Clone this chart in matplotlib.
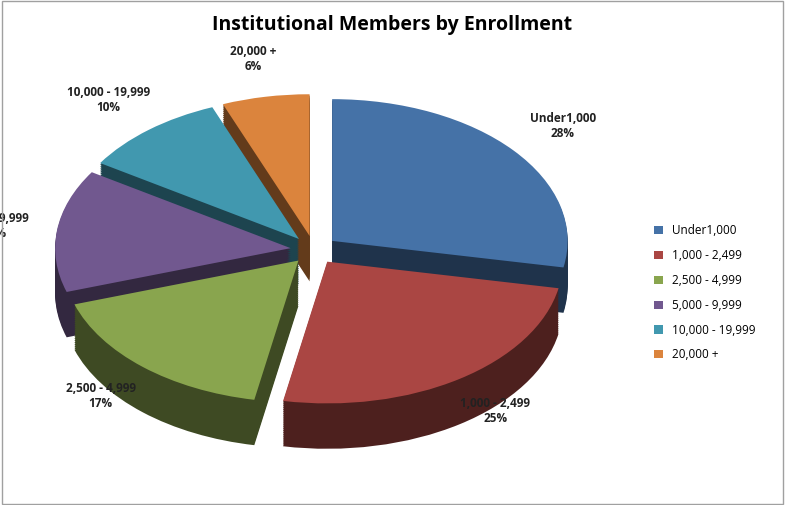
import matplotlib.pyplot as plt
import matplotlib.colors as mcolors
import numpy as np

categories = ["Under1,000", "1,000 - 2,499", "2,500 - 4,999", "5,000 - 9,999", "10,000 - 19,999", "20,000 +"]
shares = [28, 25, 17, 14, 10, 6]
colors = ["#4572a7", "#aa4643", "#89a54e", "#71588f", "#4198af", "#db843d"]
explode = [0.1, 0.1, 0.1, 0.1, 0.1, 0.1]

plt.rcParams["font.family"] = ["Open Sans", "DejaVu Sans"]

fig = plt.figure(figsize=(7.85, 5.05), dpi=100)
fig.patches.append(plt.Rectangle((0.002, 0.002), 0.996, 0.996, transform=fig.transFigure,
                                 fill=False, edgecolor="#a0a0a0", linewidth=1))
ax = fig.add_axes([0.01, 0.07, 0.78, 0.8])

dark = [tuple(c * 0.45 for c in mcolors.to_rgb(col)) for col in colors]
depth = 0.32
for d in np.linspace(depth, 0.01, 24):
    ax.pie(shares, colors=dark, startangle=90, counterclock=False,
           explode=explode, center=(0, -d), wedgeprops=dict(linewidth=0))

labels = [f"{c}\n{s}%" for c, s in zip(categories, shares)]
wedges, texts = ax.pie(shares, colors=colors, startangle=90, counterclock=False,
                       explode=explode, labels=labels, labeldistance=1.27,
                       wedgeprops=dict(linewidth=0),
                       textprops=dict(fontsize=8.5, fontweight="bold", color="#222222"))
for t in texts:
    t.set_horizontalalignment("center")
ax.set_aspect("auto")
ax.set_xlim(-1.3, 1.3)
ax.set_ylim(-1.55, 1.3)
ax.axis("off")

fig.legend(wedges, categories, loc="center left", bbox_to_anchor=(0.82, 0.42),
           frameon=False, fontsize=8.5, handlelength=0.7, handleheight=0.7,
           labelspacing=1.0)
fig.suptitle("Institutional Members by Enrollment", y=0.97, fontsize=14, fontweight="bold")

fig.savefig("out.png", dpi=100)
